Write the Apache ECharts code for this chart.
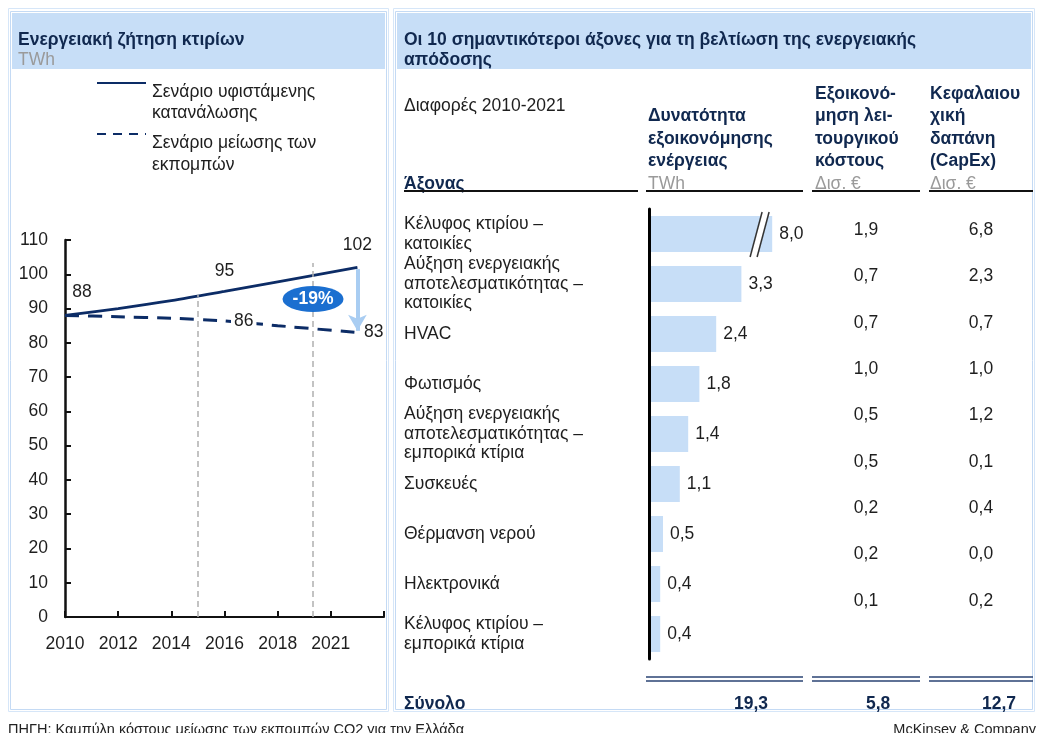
<!DOCTYPE html>
<html>
<head>
<meta charset="utf-8">
<script src="https://cdn.jsdelivr.net/npm/echarts@6/dist/echarts.min.js"></script>
<style>
  html, body { margin: 0; padding: 0; background: #fff; }
  #main { width: 1038px; height: 733px; }
</style>
</head>
<body>
<div id="main"></div>
<script>
// left chart: building energy demand, TWh
const years = [2010, 2012, 2014, 2016, 2018, 2021];
const currentScenario = [88, 90, 92.3, 95, 97.8, 102];
const reductionScenario = [88, 87.6, 87.2, 86.4, 85, 83];
const yearLabels = { 2010: "2010", 2012: "2012", 2014: "2014", 2016: "2016", 2018: "2018", 2020: "2021" };

// right table: top levers
const levers = [
  "Κέλυφος κτιρίου –\nκατοικίες",
  "Αύξηση ενεργειακής\nαποτελεσματικότητας –\nκατοικίες",
  "HVAC",
  "Φωτισμός",
  "Αύξηση ενεργειακής\nαποτελεσματικότητας –\nεμπορικά κτίρια",
  "Συσκευές",
  "Θέρμανση νερού",
  "Ηλεκτρονικά",
  "Κέλυφος κτιρίου –\nεμπορικά κτίρια",
];
const energySavings = [8.0, 3.3, 2.4, 1.8, 1.4, 1.1, 0.5, 0.4, 0.4];
const opexSavings = [1.9, 0.7, 0.7, 1.0, 0.5, 0.5, 0.2, 0.2, 0.1];
const capexValues = [6.8, 2.3, 0.7, 1.0, 1.2, 0.1, 0.4, 0.0, 0.2];
const totals = [19.3, 5.8, 12.7];
const barCap = 4.4; // the 8,0 bar is drawn broken

const fmt = (v) => v.toFixed(1).replace(".", ",");
const navy = "#0c2c66";
const ink = "#1e1e1e";
const font = "Liberation Sans, Arial, sans-serif";
const fs = 17.5;

const lastCur = currentScenario[currentScenario.length - 1];
const lastRed = reductionScenario[reductionScenario.length - 1];
const pct = Math.round(((lastRed - lastCur) / lastCur) * 100);

function txt(x, y, text, opts) {
  return {
    type: "text",
    left: x,
    top: y,
    style: Object.assign(
      { text: text, fill: ink, font: fs + "px " + font, textVerticalAlign: "middle" },
      opts || {}
    ),
  };
}
function hline(x1, x2, y, color, w) {
  return { type: "line", shape: { x1: x1, y1: y, x2: x2, y2: y }, style: { stroke: color, lineWidth: w } };
}

const graphics = [
  // panels
  { type: "rect", shape: { x: 8.5, y: 8.5, width: 380, height: 703 }, style: { fill: null, stroke: "#d6e6f8", lineWidth: 1 } },
  { type: "rect", shape: { x: 10.5, y: 11.5, width: 376, height: 698 }, style: { fill: null, stroke: "#c4daf4", lineWidth: 1 } },
  { type: "rect", shape: { x: 12, y: 13, width: 373, height: 56 }, style: { fill: "#c7def7" } },
  { type: "rect", shape: { x: 393.5, y: 8.5, width: 641, height: 703 }, style: { fill: null, stroke: "#d6e6f8", lineWidth: 1 } },
  { type: "rect", shape: { x: 395.5, y: 11.5, width: 637, height: 698 }, style: { fill: null, stroke: "#c4daf4", lineWidth: 1 } },
  { type: "rect", shape: { x: 397, y: 13, width: 634, height: 56 }, style: { fill: "#c7def7" } },
];

const boldHead = { fill: "#10284f", font: "bold " + fs + "px " + font };
const grey = { fill: "#9a9a9a" };

// left header + legend
graphics.push(
  txt(18, 31, "Ενεργειακή ζήτηση κτιρίων", boldHead),
  txt(18, 51, "TWh", grey),
  { type: "line", shape: { x1: 97, y1: 83, x2: 146, y2: 83 }, style: { stroke: navy, lineWidth: 2 } },
  { type: "line", shape: { x1: 97, y1: 134, x2: 146, y2: 134 }, style: { stroke: navy, lineWidth: 2, lineDash: [9, 7] } },
  txt(152, 83, "Σενάριο υφιστάμενης"),
  txt(152, 104, "κατανάλωσης"),
  txt(152, 134, "Σενάριο μείωσης των"),
  txt(152, 156, "εκπομπών")
);

// right header
graphics.push(
  txt(404, 31, "Οι 10 σημαντικότεροι άξονες για τη βελτίωση της ενεργειακής", boldHead),
  txt(404, 51, "απόδοσης", boldHead),
  txt(404, 97, "Διαφορές 2010-2021"),
  txt(404, 175, "Άξονας", boldHead),
  txt(648, 107, "Δυνατότητα", boldHead),
  txt(648, 130, "εξοικονόμησης", boldHead),
  txt(648, 152, "ενέργειας", boldHead),
  txt(648, 175, "TWh", grey),
  txt(815, 85, "Εξοικονό-", boldHead),
  txt(815, 107, "μηση λει-", boldHead),
  txt(815, 130, "τουργικού", boldHead),
  txt(815, 152, "κόστους", boldHead),
  txt(815, 175, "Δισ. €", grey),
  txt(930, 85, "Κεφαλαιου", boldHead),
  txt(930, 107, "χική", boldHead),
  txt(930, 130, "δαπάνη", boldHead),
  txt(930, 152, "(CapEx)", boldHead),
  txt(930, 175, "Δισ. €", grey),
  hline(404, 638, 191, "#111", 2),
  hline(646, 803, 191, "#111", 2),
  hline(812, 920, 191, "#111", 2),
  hline(929, 1033, 191, "#111", 2),
  hline(646, 803, 677, "#2a4373", 1.5),
  hline(646, 803, 681, "#2a4373", 1.5),
  hline(812, 920, 677, "#2a4373", 1.5),
  hline(812, 920, 681, "#2a4373", 1.5),
  hline(929, 1033, 677, "#2a4373", 1.5),
  hline(929, 1033, 681, "#2a4373", 1.5),
  txt(404, 695, "Σύνολο", boldHead),
  txt(734, 695, fmt(totals[0]), Object.assign({ textAlign: "center" }, boldHead)),
  txt(866, 695, fmt(totals[1]), Object.assign({ textAlign: "center" }, boldHead)),
  txt(982, 695, fmt(totals[2]), Object.assign({ textAlign: "center" }, boldHead))
);

// footer
graphics.push(
  txt(8, 722, "ΠΗΓΗ: Καμπύλη κόστους μείωσης των εκπομπών CO2 για την Ελλάδα", { font: "14.5px " + font, fill: "#222" }),
  { type: "text", right: 2, top: 722, style: { text: "McKinsey & Company", fill: "#222", font: "14.5px " + font, textVerticalAlign: "middle" } }
);
graphics.forEach((g, i) => { g.id = "g" + i; });

const valueLabel = { color: ink, fontSize: fs, fontFamily: font, opacity: 1 };

const chart = echarts.init(document.getElementById("main"));
chart.setOption({
  animation: false,
  textStyle: { fontFamily: font },
  grid: [
    { left: 65, top: 240, width: 319, height: 377, outerBoundsMode: "none" },
    { left: 649, top: 209, width: 280, height: 450, outerBoundsMode: "none" },
    { left: 808.5, top: 207, width: 230, height: 417, outerBoundsMode: "none" },
  ],
  xAxis: [
    {
      gridIndex: 0, type: "value", min: 2010, max: 2022, interval: 2,
      axisLine: { show: true, lineStyle: { color: "#111", width: 2 } },
      axisTick: { show: true, inside: true, length: 6, lineStyle: { color: "#111", width: 2 } },
      axisLabel: {
        margin: 18, fontSize: fs, color: ink,
        formatter: (v) => yearLabels[v] || "",
      },
      splitLine: { show: false },
    },
    { gridIndex: 1, type: "value", min: 0, max: 10, show: false },
    { gridIndex: 2, type: "category", data: ["opex", "capex"], show: false },
  ],
  yAxis: [
    {
      gridIndex: 0, type: "value", min: 0, max: 110, interval: 10,
      axisLine: { show: true, lineStyle: { color: "#111", width: 2.5 } },
      axisTick: { show: true, inside: true, length: 6, lineStyle: { color: "#111", width: 2 } },
      axisLabel: { margin: 17, fontSize: fs, color: ink },
      splitLine: { show: false },
    },
    {
      gridIndex: 1, type: "category", inverse: true, data: levers, z: 10,
      axisLine: { show: true, lineStyle: { color: "#000", width: 3 } },
      axisTick: { show: false },
      axisLabel: { interval: 0, align: "left", margin: 245, fontSize: fs, lineHeight: 19.5, color: ink },
    },
    { gridIndex: 2, type: "category", inverse: true, data: levers, show: false },
  ],
  series: [
    {
      name: "Σενάριο υφιστάμενης κατανάλωσης",
      type: "line", xAxisIndex: 0, yAxisIndex: 0, z: 3,
      smooth: 0.3, symbol: "circle", symbolSize: 1, showSymbol: true,
      itemStyle: { color: "rgba(0,0,0,0)" },
      lineStyle: { color: navy, width: 2.8 },
      data: years.map((y, i) => {
        const d = { value: [y, currentScenario[i]] };
        if (i === 0) d.label = { show: true, position: "top", distance: 14, offset: [17, 0] };
        if (y === 2016) d.label = { show: true, position: "top", distance: 11 };
        if (i === years.length - 1) d.label = { show: true, position: "top", distance: 13 };
        return d;
      }),
      label: Object.assign({ show: false, formatter: (p) => Math.round(p.value[1]) }, valueLabel),
      markLine: {
        silent: true, symbol: ["none", "arrow"], symbolSize: [14, 16],
        lineStyle: { color: "#a9cdf2", width: 4, type: "solid" },
        label: { show: false },
        data: [[{ coord: [2021, lastCur - 0.5] }, { coord: [2021, lastRed + 0.5] }]],
      },
      markPoint: {
        silent: true, symbol: "circle", symbolSize: [61, 26],
        itemStyle: { color: "#1b6fd0" },
        label: { show: true, formatter: pct + "%", color: "#fff", fontSize: fs, fontWeight: "bold" },
        data: [{ coord: [2019.33, 92.8] }],
      },
    },
    {
      name: "Σενάριο μείωσης των εκπομπών",
      type: "line", xAxisIndex: 0, yAxisIndex: 0, z: 4,
      smooth: 0.2, symbol: "circle", symbolSize: 1, showSymbol: true,
      itemStyle: { color: "rgba(0,0,0,0)" },
      lineStyle: { color: navy, width: 3, type: [14, 9] },
      data: years.map((y, i) => {
        const d = { value: [y, reductionScenario[i]] };
        if (y === 2016) d.label = { show: true, position: "right", distance: 6, backgroundColor: "#fff", padding: [0, 3] };
        if (i === years.length - 1) d.label = { show: true, position: "right", distance: 6 };
        return d;
      }),
      label: Object.assign({ show: false, formatter: (p) => Math.round(p.value[1]) }, valueLabel),
      markLine: {
        silent: true, symbol: "none",
        lineStyle: { color: "#b0b0b0", width: 1.5, type: [6, 4] },
        label: { show: false },
        data: [
          [{ coord: [2015, 0] }, { coord: [2015, 94] }],
          [{ coord: [2019.33, 0] }, { coord: [2019.33, 103.3] }],
        ],
      },
    },
    {
      name: "Δυνατότητα εξοικονόμησης ενέργειας",
      type: "bar", xAxisIndex: 1, yAxisIndex: 1,
      barWidth: 36,
      itemStyle: { color: "#c7def7" },
      data: energySavings.map((v) => Math.min(v, barCap)),
      label: Object.assign(
        { show: true, position: "right", distance: 7, formatter: (p) => fmt(energySavings[p.dataIndex]) },
        valueLabel
      ),
    },
    {
      name: "Εξοικονόμηση λειτουργικού κόστους",
      type: "scatter", xAxisIndex: 2, yAxisIndex: 2,
      symbolSize: 1, itemStyle: { color: "rgba(0,0,0,0)", opacity: 1 },
      data: opexSavings.map((v, i) => [0, i, v]),
      label: Object.assign({ show: true, position: "inside", formatter: (p) => fmt(p.value[2]) }, valueLabel),
    },
    {
      name: "Κεφαλαιουχική δαπάνη",
      type: "scatter", xAxisIndex: 2, yAxisIndex: 2,
      symbolSize: 1, itemStyle: { color: "rgba(0,0,0,0)", opacity: 1 },
      data: capexValues.map((v, i) => [1, i, v]),
      label: Object.assign({ show: true, position: "inside", formatter: (p) => fmt(p.value[2]) }, valueLabel),
    },
  ],
  graphic: { elements: graphics },
});

// break marks on the capped bar
const bp = chart.convertToPixel({ xAxisIndex: 1, yAxisIndex: 1 }, [3.95, 0]);
const cx = bp[0], cy = bp[1];
chart.setOption({
  graphic: {
    elements: [
      {
        id: "brkFill", type: "polygon", z: 10,
        shape: { points: [[cx - 9.5, cy + 23], [cx - 2.5, cy + 23], [cx + 9.5, cy - 22], [cx + 2.5, cy - 22]] },
        style: { fill: "#fff" },
      },
      { id: "brk1", type: "line", z: 11, shape: { x1: cx - 9.5, y1: cy + 23, x2: cx + 2.5, y2: cy - 22 }, style: { stroke: "#333", lineWidth: 1.5 } },
      { id: "brk2", type: "line", z: 11, shape: { x1: cx - 2.5, y1: cy + 23, x2: cx + 9.5, y2: cy - 22 }, style: { stroke: "#333", lineWidth: 1.5 } },
    ],
  },
});
</script>
</body>
</html>
